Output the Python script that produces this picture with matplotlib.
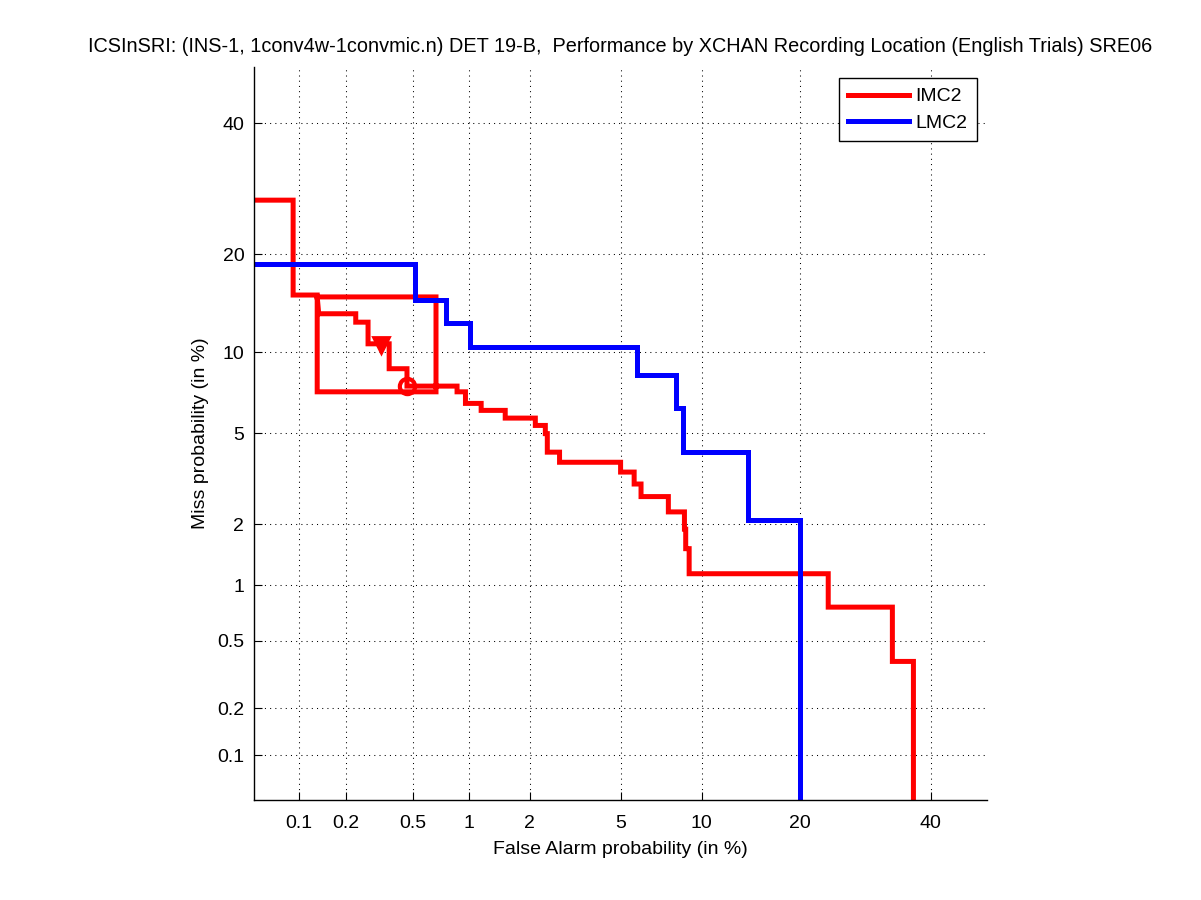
import math
import numpy as np
import matplotlib
matplotlib.use("Agg")
import matplotlib.pyplot as plt

plt.rcParams["font.family"] = ["Liberation Sans", "DejaVu Sans"]

# DET curve vertices, in percent
imc2_fa = [0.01, 0.092, 0.092, 0.132, 0.132, 0.669, 0.669, 0.132, 0.132, 0.135,
           0.230, 0.230, 0.273, 0.273, 0.364, 0.364, 0.461, 0.461, 0.868, 0.868,
           0.961, 0.961, 1.158, 1.158, 1.528, 1.528, 2.13, 2.13, 2.37, 2.37,
           2.42, 2.42, 2.75, 2.75, 5.0, 5.0, 5.66, 5.66, 6.02, 6.02,
           7.63, 7.63, 8.72, 8.72, 8.81, 8.81, 9.06, 9.06, 23.8, 23.8,
           33.55, 33.55, 37.06, 37.06]
imc2_miss = [27.5, 27.5, 15.3, 15.3, 15.1, 15.1, 7.24, 7.24, 15.1, 13.4,
             13.4, 12.6, 12.6, 10.7, 10.7, 8.78, 8.78, 7.60, 7.60, 7.24,
             7.24, 6.55, 6.55, 6.16, 6.16, 5.75, 5.75, 5.38, 5.38, 4.99,
             4.99, 4.19, 4.19, 3.80, 3.80, 3.45, 3.45, 3.06, 3.06, 2.69,
             2.69, 2.29, 2.29, 1.90, 1.90, 1.53, 1.53, 1.146, 1.146, 0.766,
             0.766, 0.381, 0.381, 0.001]

lmc2_fa = [0.01, 0.512, 0.512, 0.759, 0.759, 1.017, 1.017, 5.82, 5.82, 8.11,
           8.11, 8.65, 8.65, 14.13, 14.13, 20.07, 20.07]
lmc2_miss = [18.77, 18.77, 14.73, 14.73, 12.48, 12.48, 10.43, 10.43, 8.33, 8.33,
             6.30, 6.30, 4.19, 4.19, 2.11, 2.11, 0.001]

# operating points on IMC2
min_dcf = (0.325, 10.6)
act_dcf = (0.46, 7.6)

tick_vals = [0.1, 0.2, 0.5, 1, 2, 5, 10, 20, 40]
tick_labels = ["0.1", "0.2", "0.5", "1", "2", "5", "10", "20", "40"]

title = ("ICSInSRI: (INS-1, 1conv4w-1convmic.n) DET 19-B,  Performance by "
         "XCHAN Recording Location (English Trials) SRE06")


def probit(pct):
    p = np.clip(np.asarray(pct, dtype=float) / 100.0, 1e-12, 1 - 1e-12)
    a = [-3.969683028665376e+01, 2.209460984245205e+02, -2.759285104469687e+02,
         1.383577518672690e+02, -3.066479806614716e+01, 2.506628277459239e+00]
    b = [-5.447609879822406e+01, 1.615858368580409e+02, -1.556989798598866e+02,
         6.680131188771972e+01, -1.328068155288572e+01]
    c = [-7.784894002430293e-03, -3.223964580411365e-01, -2.400758277161838e+00,
         -2.549671010229583e+00, 4.374664141464968e+00, 2.938163982698783e+00]
    d = [7.784695709041462e-03, 3.224671290700398e-01, 2.445134137142996e+00,
         3.754408661907416e+00]
    plow = 0.02425
    q = p - 0.5
    r = q * q
    central = ((((((a[0] * r + a[1]) * r + a[2]) * r + a[3]) * r + a[4]) * r + a[5]) * q
               / (((((b[0] * r + b[1]) * r + b[2]) * r + b[3]) * r + b[4]) * r + 1))
    ql = np.sqrt(-2 * np.log(p))
    low = ((((((c[0] * ql + c[1]) * ql + c[2]) * ql + c[3]) * ql + c[4]) * ql + c[5])
           / ((((d[0] * ql + d[1]) * ql + d[2]) * ql + d[3]) * ql + 1))
    qu = np.sqrt(-2 * np.log(1 - p))
    high = -((((((c[0] * qu + c[1]) * qu + c[2]) * qu + c[3]) * qu + c[4]) * qu + c[5])
             / ((((d[0] * qu + d[1]) * qu + d[2]) * qu + d[3]) * qu + 1))
    return np.where(p < plow, low, np.where(p > 1 - plow, high, central))


_erf = np.vectorize(math.erf)


def inv_probit(z):
    z = np.asarray(z, dtype=float)
    return 50.0 * (1 + _erf(z / math.sqrt(2)))


def main():
    fig = plt.figure(figsize=(12.01, 9), dpi=100)
    ax = fig.add_axes([254 / 1201, 100 / 900, 733 / 1201, 733 / 900])

    ax.set_xscale("function", functions=(probit, inv_probit))
    ax.set_yscale("function", functions=(probit, inv_probit))

    ax.plot(imc2_fa, imc2_miss, color="red", lw=3.6, label="IMC2",
            solid_joinstyle="miter")
    ax.plot(lmc2_fa, lmc2_miss, color="blue", lw=3.6, label="LMC2",
            solid_joinstyle="miter")
    ax.plot(*min_dcf, marker="v", color="red", markersize=12, mew=2)
    ax.plot(*act_dcf, marker="o", color="red", markersize=11, mew=3,
            markerfacecolor="none")

    ax.set_xlim(0.05, 50)
    ax.set_ylim(0.05, 50)
    ax.set_xticks(tick_vals)
    ax.set_xticklabels(tick_labels)
    ax.set_yticks(tick_vals)
    ax.set_yticklabels(tick_labels)
    ax.minorticks_off()
    ax.tick_params(direction="in", length=5.5, width=0.8, labelsize=14)
    ax.tick_params(axis="x", pad=11)
    ax.tick_params(axis="y", pad=7)

    for s in ["top", "right"]:
        ax.spines[s].set_visible(False)
    ax.spines["left"].set_linewidth(1)
    ax.spines["bottom"].set_linewidth(1)

    ax.grid(True, color="black", linestyle=(0, (1, 4)), linewidth=0.75)
    ax.set_axisbelow(True)

    ax.set_title(title, fontsize=14.3, pad=11)
    ax.set_xlabel("False Alarm probability (in %)", fontsize=14, labelpad=6.5)
    ax.set_ylabel("Miss probability (in %)", fontsize=14, labelpad=6)

    leg = ax.legend(loc="upper right", bbox_to_anchor=(0.9864, 0.985),
                    borderaxespad=0, fontsize=14, handlelength=3.1,
                    handletextpad=0.35, borderpad=0.5, labelspacing=0.45,
                    fancybox=False, framealpha=1, edgecolor="black")
    leg.get_frame().set_linewidth(1)

    fig.savefig("out.png", dpi=100)


if __name__ == "__main__":
    main()
